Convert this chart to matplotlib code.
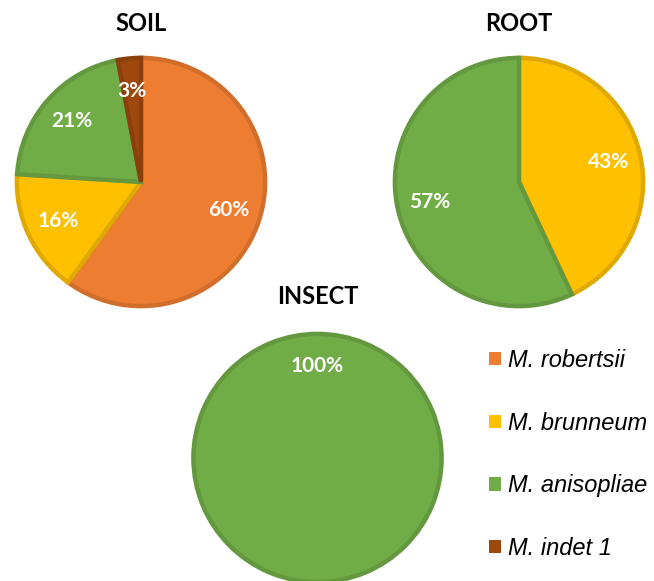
import matplotlib
matplotlib.use('Agg')
import matplotlib.pyplot as plt
from matplotlib.patches import Patch
from matplotlib.colors import to_rgb

species = ['M. robertsii', 'M. brunneum', 'M. anisopliae', 'M. indet 1']
colors = ['#ED7D31', '#FFC000', '#70AD47', '#9E480E']

soil_values = [60, 16, 21, 3]
root_values = [0, 43, 57, 0]
insect_values = [0, 0, 100, 0]

W, H = 654, 581


def darker(c, f=0.88):
    r, g, b = to_rgb(c)
    return (r * f, g * f, b * f)


def pie_axes(fig, cx, cy, r):
    # pixel centre/radius -> figure fraction box
    ax = fig.add_axes([(cx - r) / W, (H - cy - r) / H, 2 * r / W, 2 * r / H])
    ax.set_xlim(-1, 1)
    ax.set_ylim(-1, 1)
    ax.set_axis_off()
    return ax


def draw_pie(ax, values, title, title_y, startangle=90):
    vals, cols = [], []
    for v, c in zip(values, colors):
        if v > 0:
            vals.append(v)
            cols.append(c)
    wedges, texts = ax.pie(vals, colors=cols, startangle=startangle, counterclock=False,
                           radius=0.985, labels=[f'{v}%' for v in vals], labeldistance=0.74,
                           wedgeprops=dict(linewidth=3.2, joinstyle='miter'),
                           textprops=dict(color='white', fontsize=15, fontweight='bold',
                                          family='Lato', ha='center', va='center'))
    for w, c in zip(wedges, cols):
        w.set_edgecolor(darker(c))
    ax.set_xlim(-1, 1)
    ax.set_ylim(-1, 1)
    ax.text(0, title_y, title, ha='center', va='center', fontsize=17,
            fontweight='bold', family='Lato', transform=ax.transData, clip_on=False)


fig = plt.figure(figsize=(W / 100, H / 100), dpi=100)

ax1 = pie_axes(fig, 141, 182, 126)
draw_pie(ax1, soil_values, 'SOIL', 1.26)

ax2 = pie_axes(fig, 519, 182, 126)
draw_pie(ax2, root_values, 'ROOT', 1.26)

ax3 = pie_axes(fig, 317.5, 458, 126)
draw_pie(ax3, insect_values, 'INSECT', 1.28, startangle=270)

handles = [Patch(facecolor=c, edgecolor='none') for c in colors]
fig.legend(handles, species, loc='upper left', bbox_to_anchor=(489 / W, 1 - 349 / H),
           frameon=False,
           prop=dict(family='Liberation Sans', style='italic', size=17),
           handlelength=0.5, handleheight=0.5, handletextpad=0.3,
           labelspacing=1.68, borderpad=0, borderaxespad=0)

fig.savefig('out.png', dpi=100)
